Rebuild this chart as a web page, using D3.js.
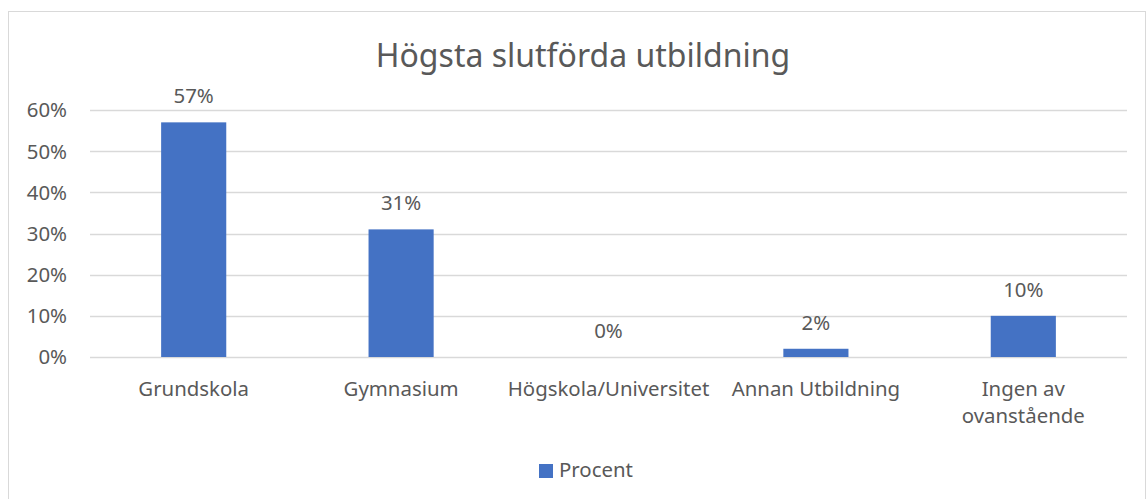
<!DOCTYPE html>
<html>
<head>
<meta charset="utf-8">
<script src="https://cdn.jsdelivr.net/npm/d3@7"></script>
<style>
body { margin: 0; background: #fff; }
text { font-family: "Noto Sans", "Open Sans", sans-serif; fill: #595959; }
</style>
</head>
<body>
<svg id="chart" width="1147" height="499"></svg>
<script>
// data
var categories = ['Grundskola', 'Gymnasium', 'Högskola/Universitet', 'Annan Utbildning', 'Ingen av ovanstående']
var values = [0.57, 0.31, 0.00, 0.02, 0.10]
var ticks = [0, 0.1, 0.2, 0.3, 0.4, 0.5, 0.6]
var seriesName = 'Procent'
var title = 'Högsta slutförda utbildning'

var svg = d3.select('#chart')
var barColor = '#4472c4'
var fs = '20.4px'

// outer frame
svg.append('rect')
	.attr('x', 8.5)
	.attr('y', 11.5)
	.attr('width', 1137)
	.attr('height', 500)
	.attr('fill', 'none')
	.attr('stroke', '#d9d9d9')

var x = d3.scaleBand()
	.domain(categories)
	.range([90, 1127])
	.padding(0)

var y = d3.scaleLinear()
	.domain([0, 0.6])
	.range([357, 110])

var barWidth = x.bandwidth() * 0.314

// title
svg.append('text')
	.attr('x', 583)
	.attr('y', 67)
	.attr('text-anchor', 'middle')
	.style('font-size', '32px')
	.text(title)

// gridlines
svg.append('g')
	.selectAll('line')
	.data(ticks)
	.enter()
	.append('line')
	.attr('x1', 90)
	.attr('x2', 1127)
	.attr('y1', function(d){ return Math.round(y(d)) + 0.5 })
	.attr('y2', function(d){ return Math.round(y(d)) + 0.5 })
	.attr('stroke', '#d9d9d9')
	.attr('stroke-width', 1.3)

// y tick labels
svg.append('g')
	.selectAll('text')
	.data(ticks)
	.enter()
	.append('text')
	.attr('x', 67)
	.attr('y', function(d){ return y(d) })
	.attr('dy', '0.36em')
	.attr('text-anchor', 'end')
	.style('font-size', fs)
	.text(d3.format('.0%'))

// bars
svg.append('g')
	.selectAll('rect')
	.data(values)
	.enter()
	.append('rect')
	.attr('x', function(d, i){ return x(categories[i]) + x.bandwidth()/2 - barWidth/2 })
	.attr('y', function(d){ return y(d) })
	.attr('width', barWidth)
	.attr('height', function(d){ return y(0) - y(d) })
	.attr('fill', barColor)

// data labels
svg.append('g')
	.selectAll('text')
	.data(values)
	.enter()
	.append('text')
	.attr('x', function(d, i){ return x(categories[i]) + x.bandwidth()/2 })
	.attr('y', function(d){ return y(d) - 19 })
	.attr('text-anchor', 'middle')
	.style('font-size', fs)
	.text(d3.format('.0%'))

// category labels, wrapped like the original
var wrapped = {'Ingen av ovanstående': ['Ingen av', 'ovanstående']}
svg.append('g')
	.selectAll('text')
	.data(categories)
	.enter()
	.append('text')
	.attr('text-anchor', 'middle')
	.style('font-size', fs)
	.each(function(d){
		var lines = wrapped[d] || [d]
		var t = d3.select(this)
		lines.forEach(function(l, i){
			t.append('tspan')
				.attr('x', x(d) + x.bandwidth()/2)
				.attr('y', 396 + i*27)
				.text(l)
		})
	})

// legend
svg.append('rect')
	.attr('x', 539)
	.attr('y', 464)
	.attr('width', 14)
	.attr('height', 14)
	.attr('fill', barColor)
svg.append('text')
	.attr('x', 559)
	.attr('y', 477)
	.style('font-size', fs)
	.text(seriesName)
</script>
</body>
</html>
